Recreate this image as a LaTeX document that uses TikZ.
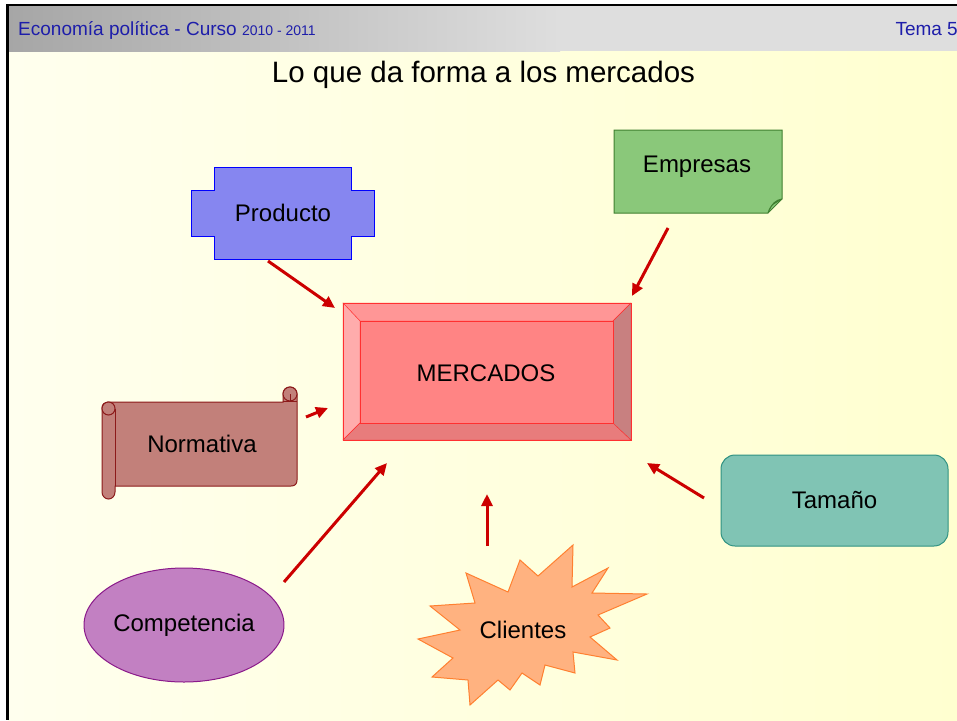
\documentclass[tikz,border=0pt]{standalone}
\usepackage{fontspec}
\setmainfont{Liberation Sans}
\usetikzlibrary{arrows.meta,shapes.geometric}
\definecolor{bgl}{RGB}{255,255,238}
\definecolor{bgr}{RGB}{255,255,208}
\definecolor{hdrlight}{RGB}{222,222,222}
\definecolor{hdrdark}{RGB}{166,166,166}
\definecolor{hdrtext}{RGB}{30,30,170}
\definecolor{prodfill}{RGB}{134,134,240}
\definecolor{prodline}{RGB}{0,0,255}
\definecolor{empfill}{RGB}{138,200,122}
\definecolor{empline}{RGB}{64,128,48}
\definecolor{empfold}{RGB}{96,160,80}
\definecolor{merfill}{RGB}{255,132,132}
\definecolor{merline}{RGB}{255,48,48}
\definecolor{mertop}{RGB}{255,150,150}
\definecolor{merleft}{RGB}{255,172,172}
\definecolor{merbot}{RGB}{232,124,124}
\definecolor{merright}{RGB}{200,128,128}
\definecolor{normfill}{RGB}{194,128,122}
\definecolor{normline}{RGB}{140,26,26}
\definecolor{tamfill}{RGB}{128,196,180}
\definecolor{tamline}{RGB}{48,146,130}
\definecolor{compfill}{RGB}{194,128,194}
\definecolor{compline}{RGB}{138,26,138}
\definecolor{clifill}{RGB}{255,178,128}
\definecolor{cliline}{RGB}{255,128,48}
\definecolor{arrowred}{RGB}{204,0,0}
\begin{document}
\begin{tikzpicture}[x=1pt,y=-1pt,
  lbl/.style={font=\fontsize{24}{28}\selectfont, text=black, inner sep=0pt},
  conn/.style={draw=arrowred, line width=3pt, -{Triangle[length=12pt,width=11pt]}},
  shapeline/.style={line width=1pt}]
\useasboundingbox (0,0) rectangle (957,720);
% page background
\fill[white] (0,0) rectangle (957,720);
\shade[left color=bgl, right color=bgr] (8,51) rectangle (957,720);
% header
\fill[hdrlight] (8,6) rectangle (957,51);
\shade[left color=hdrdark, right color=hdrlight] (8,6) rectangle (560,51);
\fill[black] (6,4) rectangle (957,6);
\fill[black] (6,4) rectangle (8.5,720);
\node[anchor=base west, inner sep=0pt, text=hdrtext, font=\fontsize{19}{22}\selectfont] (hdr) at (18,35) {Economía política - Curso {\fontsize{14}{16}\selectfont 2010 - 2011}};
\node[anchor=base east, inner sep=0pt, text=hdrtext, font=\fontsize{19}{22}\selectfont] (tema) at (958,35) {Tema 5};
% title
\node[inner sep=0pt, font=\fontsize{29.5}{34}\selectfont] (title) at (483.5,75) {Lo que da forma a los mercados};
% Producto
\filldraw[shapeline, fill=prodfill, draw=prodline] (214,167) -- (351,167) -- (351,190) -- (374,190) -- (374,236) -- (351,236) -- (351,259) -- (214,259) -- (214,236) -- (191,236) -- (191,190) -- (214,190) -- cycle;
\node[lbl] (prod) at (283,213) {Producto};
% Empresas
\filldraw[shapeline, fill=empfill, draw=empline] (614,130) -- (782,130) -- (782,199) -- (768,213) -- (614,213) -- cycle;
\filldraw[shapeline, fill=empfold, draw=empline] (782,199) .. controls (776,200) and (772,203) .. (768,213) .. controls (771,205) .. (782,199);
\node[lbl] (emp) at (697,167) {Empresas};
% MERCADOS bevel
\fill[merfill] (343,303) rectangle (631,440);
\filldraw[draw=merline, fill=mertop] (343,303) -- (631,303) -- (613,321) -- (360,321) -- cycle;
\filldraw[draw=merline, fill=merleft] (343,303) -- (360,321) -- (360,423) -- (343,440) -- cycle;
\filldraw[draw=merline, fill=merbot] (343,440) -- (360,423) -- (613,423) -- (631,440) -- cycle;
\filldraw[draw=merline, fill=merright] (631,303) -- (631,440) -- (613,423) -- (613,321) -- cycle;
\filldraw[draw=merline, fill=merfill] (360,321) rectangle (613,423);
\draw[merline, line width=1pt] (343,303) rectangle (631,440);
\node[lbl] (merc) at (486,373) {MERCADOS};
% Normativa scroll
\filldraw[shapeline, fill=normfill, draw=normline]
  (108,402) -- (283,402) -- (283,394)
  .. controls (283,390) and (286,387) .. (290,387)
  .. controls (294,387) and (297,390) .. (297,394)
  -- (297,480) .. controls (297,484) and (295,486) .. (291,486)
  -- (115,486) -- (115,492)
  .. controls (115,496) and (112,499) .. (108.5,499)
  .. controls (105,499) and (102,496) .. (102,492)
  -- (102,408) .. controls (102,404) and (105,402) .. (108,402) -- cycle;
\filldraw[normline, fill=normfill, line width=1pt] (108.5,408.5) circle[radius=6.5];
\draw[normline, line width=1pt] (115,408.5) -- (115,486);
\filldraw[normline, fill=normfill, line width=1pt] (290,394) circle[radius=7];
\draw[normline, line width=1pt] (290,394) -- (290,401) (283,401) -- (297,401);
\node[lbl] (norm) at (202,444) {Normativa};
% Tamaño
\node[lbl, shapeline, draw=tamline, fill=tamfill, rounded corners=14pt, minimum width=227pt, minimum height=91pt] (tam) at (834.5,500.5) {Tamaño};
% Competencia
\node[lbl, ellipse, shapeline, draw=compline, fill=compfill, minimum width=198pt, minimum height=114pt] (comp) at (184,625) {Competencia};
% Clientes star
\filldraw[shapeline, fill=clifill, draw=cliline] (573,545) -- (572,587) -- (608,568) -- (592,593) -- (647,594) -- (598,615) -- (610,628) -- (590,637) -- (617,660) -- (573,652) -- (575,673) -- (545,665) -- (540,685) -- (522,673) -- (510,690) -- (498,680) -- (470,705) -- (468,680) -- (432,677) -- (453,658) -- (418,639) -- (460,630) -- (430,606) -- (475,603) -- (466,573) -- (508,592) -- (520,560) -- (538,576) -- cycle;
\node[lbl] (cli) at (523,630) {Clientes};
% arrow end points
\coordinate (p1) at (268,261); \coordinate (q1) at (335,308);
\coordinate (p2) at (668,228); \coordinate (q2) at (632,296);
\coordinate (p3) at (306,417); \coordinate (q3) at (328,408);
\coordinate (p4) at (284,582); \coordinate (q4) at (387,463);
\coordinate (p5) at (487,546); \coordinate (q5) at (487,494);
\coordinate (p6) at (704,498); \coordinate (q6) at (647,463);
\draw[conn] (p1) -- (q1);
\draw[conn] (p2) -- (q2);
\draw[conn] (p3) -- (q3);
\draw[conn] (p4) -- (q4);
\draw[conn] (p5) -- (q5);
\draw[conn] (p6) -- (q6);
\end{tikzpicture}
\end{document}
